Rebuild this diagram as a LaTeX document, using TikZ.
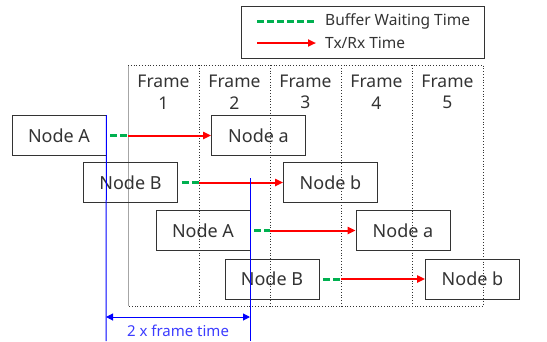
\documentclass[tikz,border=0pt]{standalone}
\usepackage{fontspec}
\setmainfont{Noto Sans}
\usetikzlibrary{arrows.meta}
\definecolor{waitGreen}{RGB}{0,176,80}
\definecolor{txRed}{RGB}{255,0,0}
\definecolor{spanBlue}{RGB}{0,0,255}
\definecolor{labelBlue}{RGB}{60,60,255}
\definecolor{boxGray}{RGB}{51,51,51}
\tikzset{
  station/.style={draw=boxGray, thick, text=boxGray, minimum width=94pt, minimum height=40pt, inner sep=0pt, font=\fontsize{18}{21}\selectfont},
  framelbl/.style={text=boxGray, align=center, font=\fontsize{17.5}{21.5}\selectfont},
  legendtxt/.style={anchor=west, text=boxGray, inner sep=0pt, font=\fontsize{15.5}{18}\selectfont},
  wait/.style={waitGreen, line width=3pt, dash pattern=on 7pt off 3pt},
  txrx/.style={txRed, line width=2pt, -{Triangle[length=8pt,width=7pt]}},
  slot/.style={dotted, line width=0.8pt, black!80},
  span/.style={spanBlue, line width=1pt}
}

\begin{document}
\begin{tikzpicture}[x=1pt,y=-1pt]
  \useasboundingbox (0,0) rectangle (547,341);

  % legend
  \draw[boxGray, thick] (241,6) rectangle (484,58);
  \node[legendtxt] (lgwait) at (325,21) {Buffer Waiting Time};
  \node[legendtxt] (lgtx) at (325,43) {Tx/Rx Time};
  \coordinate (lgw0) at (257,21);
  \coordinate (lgw1) at (315,21);
  \coordinate (lgt0) at (257,43);
  \coordinate (lgt1) at (316,43);
  \draw[wait] (lgw0) -- (lgw1);
  \draw[txrx] (lgt0) -- (lgt1);

  % frames
  \draw[gray!70, line width=0.8pt] (128,65) -- (128,306);
  \draw[slot] (128,65) -- (483,65) -- (483,306) -- (128,306);
  \draw[slot] (199,65) -- (199,306);
  \draw[slot] (270,65) -- (270,306);
  \draw[slot] (341,65) -- (341,306);
  \draw[slot] (412,65) -- (412,306);
  \node[framelbl] (fr1) at (163.5,92) {Frame\\1};
  \node[framelbl] (fr2) at (234.5,92) {Frame\\2};
  \node[framelbl] (fr3) at (305.5,92) {Frame\\3};
  \node[framelbl] (fr4) at (376.5,92) {Frame\\4};
  \node[framelbl] (fr5) at (447.5,92) {Frame\\5};

  % transmissions
  \node[station] (srcA1) at (59,135.5) {Node A};
  \node[station] (dstA1) at (258.5,135.5) {Node a};
  \node[station] (srcB1) at (130.5,182.5) {Node B};
  \node[station] (dstB1) at (330.5,182.5) {Node b};
  \node[station] (srcA2) at (203,230.5) {Node A};
  \node[station] (dstA2) at (403,230.5) {Node a};
  \node[station] (srcB2) at (272,279) {Node B};
  \node[station] (dstB2) at (472.5,279) {Node b};

  \coordinate (j1) at (128,135.5);
  \coordinate (j2) at (199,182.5);
  \coordinate (j3) at (270,230.5);
  \coordinate (j4) at (341,279);

  \draw[wait] ([xshift=4pt]srcA1.east) -- (j1);
  \draw[txrx] (j1) -- (dstA1);
  \draw[wait] ([xshift=4pt]srcB1.east) -- (j2);
  \draw[txrx] (j2) -- (dstB1);
  \draw[wait] ([xshift=4pt]srcA2.east) -- (j3);
  \draw[txrx] (j3) -- (dstA2);
  \draw[wait] ([xshift=4pt]srcB2.east) -- (j4);
  \draw[txrx] (j4) -- (dstB2);

  % two frame span
  \coordinate (sp1) at (106,341);
  \coordinate (sp2top) at (250,178);
  \coordinate (sp2) at (250,341);
  \draw[span] (srcA1.north east) -- (sp1);
  \draw[span] (sp2top) -- (sp2);
  \draw[span, {Triangle[length=7pt,width=7pt]}-{Triangle[length=7pt,width=7pt]}] (106,317) -- (250,317);
  \node[text=labelBlue, font=\fontsize{15}{17}\selectfont] (spanlbl) at (178,331) {2 x frame time};
\end{tikzpicture}
\end{document}
